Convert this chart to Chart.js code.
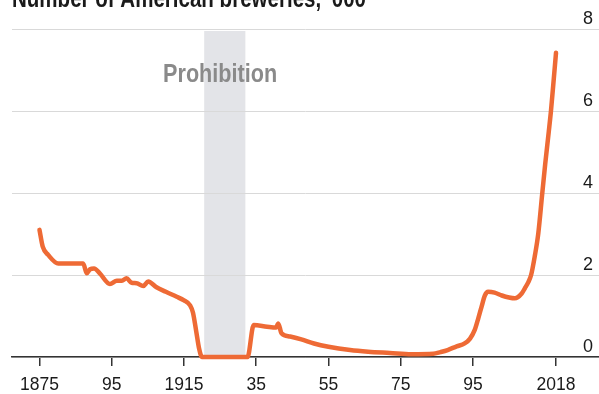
<!DOCTYPE html>
<html><head><meta charset="utf-8">
<script src="https://cdn.jsdelivr.net/npm/chart.js@4.4.1/dist/chart.umd.min.js"></script>
<style>html,body{margin:0;padding:0;background:#fff;}#wrap{width:599px;height:394px;position:relative;}</style>
</head><body><div id="wrap"><canvas id="c" width="599" height="394"></canvas></div>
<script>
const titleText = "Number of American breweries, '000";
const prohibitionLabel = "Prohibition";
const prohibitionYears = [1920.6, 1932.0];
const prohibitionLabelAt = [1925, 6.9];
const years = [1875, 1875.9, 1877.4, 1880.2, 1884, 1887.1, 1888.1, 1889, 1890.1, 1891.7, 1894.5, 1896.4, 1897.8, 1899.1, 1900.5, 1901.9, 1903.7, 1905.1, 1907.4, 1910, 1913, 1915, 1916.7, 1917.5, 1918.4, 1919.2, 1920, 1932.6, 1934.3, 1938, 1940.5, 1941.1, 1942, 1944.4, 1947.5, 1951, 1955, 1961, 1966, 1972, 1978, 1984, 1986, 1988, 1990.5, 1992.7, 1994.2, 1995.5, 1996.5, 1997.4, 1998.3, 1999.2, 2001, 2003, 2005, 2006.6, 2008.5, 2009.4, 2010.3, 2011.1, 2012.1, 2013.1, 2014.2, 2015, 2016, 2016.6, 2017.3, 2018];
const breweries = [3.10, 2.69, 2.49, 2.28, 2.28, 2.28, 2.04, 2.14, 2.16, 2.04, 1.78, 1.86, 1.86, 1.92, 1.81, 1.80, 1.73, 1.84, 1.70, 1.59, 1.47, 1.38, 1.26, 1.08, 0.62, 0.20, 0, 0, 0.78, 0.74, 0.72, 0.82, 0.58, 0.50, 0.43, 0.33, 0.25, 0.17, 0.13, 0.10, 0.07, 0.08, 0.12, 0.17, 0.26, 0.33, 0.45, 0.66, 0.95, 1.23, 1.50, 1.59, 1.57, 1.50, 1.45, 1.43, 1.55, 1.68, 1.82, 2.00, 2.45, 3.02, 4.00, 4.70, 5.50, 6.00, 6.70, 7.42];
const xTickYears = [1875, 1895, 1915, 1935, 1955, 1975, 1995, 2018];
const xTickLabels = ["1875", "95", "1915", "35", "55", "75", "95", "2018"];
const yTickValues = [0, 2, 4, 6, 8];

const FONT = "'Liberation Sans', Arial, sans-serif";

const decor = {
  id: 'decor',
  beforeDraw(chart) {
    const {ctx, scales: {x, y}} = chart;
    const x0 = x.getPixelForValue(prohibitionYears[0]);
    const x1 = x.getPixelForValue(prohibitionYears[1]);
    const yTop = y.getPixelForValue(8);
    const yBot = y.getPixelForValue(0);
    ctx.save();
    ctx.fillStyle = '#e3e4e8';
    ctx.fillRect(x0, yTop + 2, x1 - x0, yBot - yTop - 2);
    ctx.restore();
  },
  afterDraw(chart) {
    const {ctx, scales: {x, y}} = chart;
    ctx.save();
    ctx.fillStyle = '#8a8a8a';
    ctx.font = "bold 25px " + FONT;
    ctx.textAlign = 'center';
    ctx.textBaseline = 'alphabetic';
    ctx.fillText(prohibitionLabel, x.getPixelForValue(prohibitionLabelAt[0]), y.getPixelForValue(prohibitionLabelAt[1]) + 8, 114);
    ctx.fillStyle = '#1a1a1a';
    ctx.font = "bold 25px " + FONT;
    ctx.textAlign = 'left';
    ctx.fillText(titleText, 12, 7, 354);
    ctx.restore();
  }
};

new Chart(document.getElementById('c'), {
  type: 'line',
  data: {
    datasets: [{
      data: years.map((yr, i) => ({x: yr, y: breweries[i]})),
      borderColor: '#ee6a35',
      borderWidth: 4.5,
      pointRadius: 0,
      cubicInterpolationMode: 'monotone',
      borderCapStyle: 'round',
      borderJoinStyle: 'round',
      clip: false
    }]
  },
  options: {
    responsive: false,
    animation: false,
    devicePixelRatio: 1,
    layout: {padding: {left: 12, right: 0, top: 29, bottom: 0}},
    plugins: {legend: {display: false}, tooltip: {enabled: false}, title: {display: false}},
    scales: {
      x: {
        type: 'linear',
        min: 1867.39,
        max: 2029.9,
        afterBuildTicks(scale) { scale.ticks = xTickYears.map(v => ({value: v})); },
        afterFit(scale) { scale.height = 37; scale.paddingLeft = 0; scale.paddingRight = 0; },
        ticks: {
          autoSkip: false,
          maxRotation: 0,
          padding: 10,
          color: '#1a1a1a',
          font: {family: FONT, size: 17.5, lineHeight: 1},
          callback(value) { const i = xTickYears.indexOf(value); return i >= 0 ? xTickLabels[i] : ''; }
        },
        grid: {display: true, drawOnChartArea: false, drawTicks: true, tickLength: 9, color: '#333', lineWidth: 1.5},
        border: {display: true, color: '#333', width: 1.5}
      },
      y: {
        position: 'right',
        min: 0,
        max: 8,
        afterBuildTicks(scale) { scale.ticks = yTickValues.map(v => ({value: v})); },
        afterFit(scale) { scale.width = 0; scale.paddingTop = 0; scale.paddingBottom = 0; },
        ticks: {
          mirror: true,
          padding: -6,
          labelOffset: -10,
          color: '#1a1a1a',
          font: {family: FONT, size: 18, lineHeight: 1}
        },
        grid: {color: '#d9d9d9', lineWidth: 1, drawTicks: false},
        border: {display: false}
      }
    }
  },
  plugins: [decor]
});
</script>
</body></html>
